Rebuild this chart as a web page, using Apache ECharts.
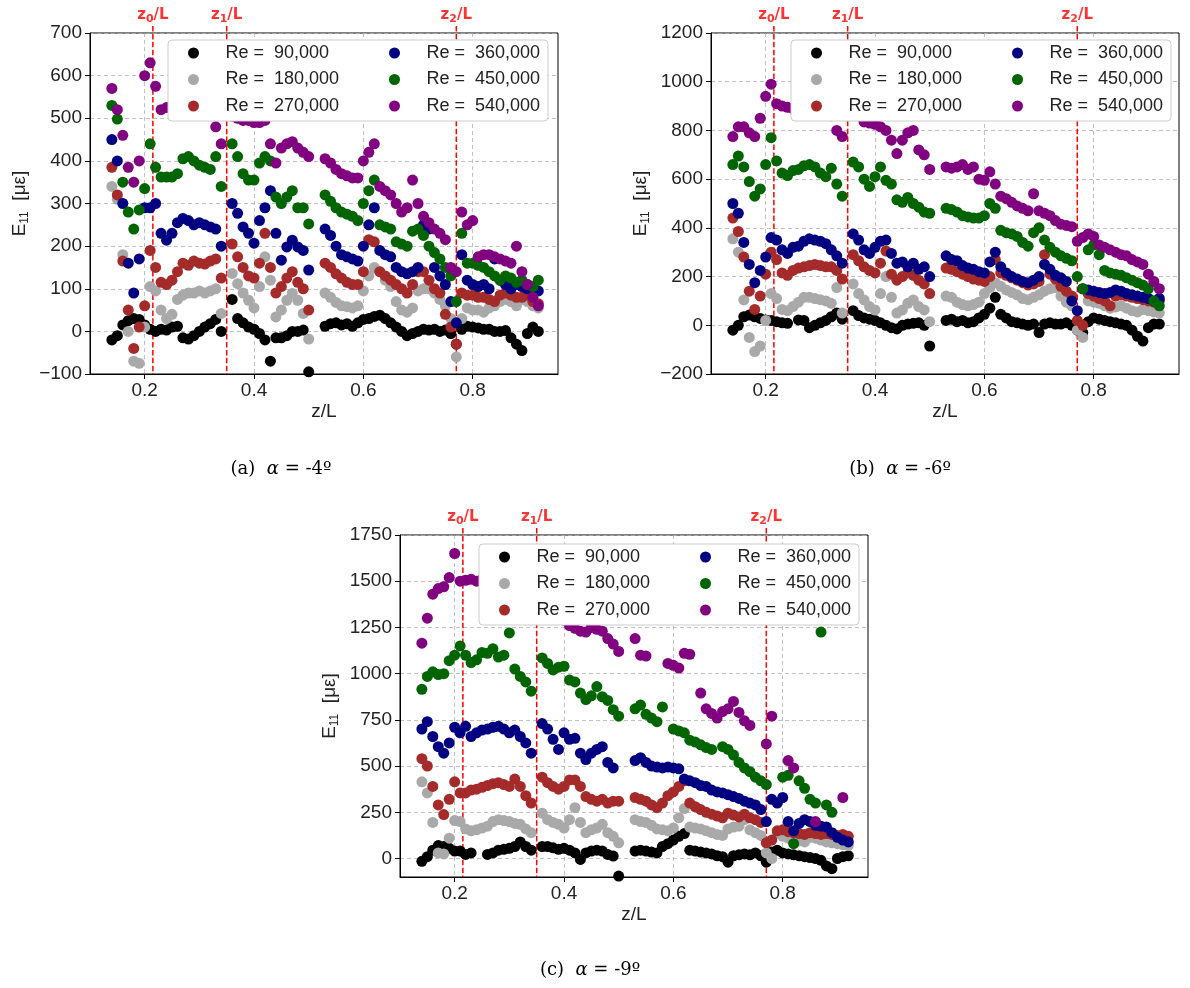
<!DOCTYPE html>
<html><head><meta charset="utf-8">
<script src="https://cdn.jsdelivr.net/npm/echarts@6/dist/echarts.min.js"></script>
<style>html,body{margin:0;padding:0;background:#fff}#chart{width:1190px;height:988px}</style>
</head><body><div id="chart"></div>
<script>
// ---------- data ----------
const zPos = [0.14,0.15,0.16,0.17,0.18,0.19,0.20,0.21,0.22,0.23,
  0.24,0.25,0.26,0.27,0.28,0.29,0.30,0.31,0.32,0.33,
  0.34,0.35,0.36,0.37,0.38,0.39,0.40,0.41,0.42,0.43,
  0.44,0.45,0.46,0.47,0.48,0.49,0.50,
  0.53,0.54,0.55,0.56,0.57,0.58,0.59,0.60,0.61,0.62,
  0.63,0.64,0.65,0.66,0.67,0.68,0.69,0.70,0.71,0.72,
  0.73,0.74,0.75,0.76,0.77,0.78,0.79,0.80,0.81,0.82,
  0.83,0.84,0.85,0.86,0.87,0.88,0.89,0.90,0.91,0.92];
const seriesNames = ['Re =  90,000','Re =  180,000','Re =  270,000','Re =  360,000','Re =  450,000','Re =  540,000'];
const seriesColors = ['#000000','#a9a9a9','#a52a2a','#000080','#006400','#800080'];
const xTicks = [0.2,0.4,0.6,0.8];
const yTicksC = [0,250,500,750,1000,1250,1500,1750];
const zRefPos = [0.215,0.35,0.77];
const zRefSub = ['0','1','2'];
const captions = ['(a)','(b)','(c)'];
const alphas = ['-4º','-6º','-9º'];

// panel (a) alpha = -4
const a90 = [-20,-10,15,25,30,28,15,5,0,5, 3,10,12,-15,-18,-10,0,10,18,28, 0,null,75,30,20,10,5,-5,-20,-70, -15,-15,-10,0,0,3,-95,
  12,18,20,15,18,12,20,28,30,35, 38,30,20,10,0,-10,-5,0,5,3, 5,0,3,-5,-30,5,12,10,8,5, 5,0,0,2,-15,-30,-45,-5,10,0];
const a180 = [340,310,180,0,-70,-75,10,105,95,50, 30,40,75,85,90,90,95,90,95,100, 42,null,136,112,90,73,55,105,175,120, 34,50,73,89,73,42,-18,
  90,80,68,60,58,55,60,95,130,150, 140,120,105,70,50,45,55,95,100,100, 90,75,60,30,-60,30,55,50,50,45, 55,60,70,75,70,60,75,70,60,55];
const a270 = [385,320,165,50,-40,10,60,190,150,115, 110,120,140,160,155,165,160,158,165,170, 125,null,205,175,150,130,125,160,230,150, 90,105,125,140,115,100,50,
  160,150,135,125,115,110,110,140,215,210, 140,130,120,110,100,90,110,140,140,120, 100,90,40,10,-30,90,85,85,80,80, 75,70,85,90,85,80,80,85,70,65];
const a360 = [450,400,300,160,90,170,290,290,300,230, 214,230,255,265,260,250,255,250,245,240, 200,null,300,277,245,230,207,260,290,330, 230,167,198,214,198,190,144,
  240,225,200,180,175,170,165,200,250,290, 190,180,175,150,140,135,140,150,250,240, 150,130,110,70,20,180,120,110,105,110, 100,170,120,110,100,110,105,100,100,95];
const a450 = [530,498,350,280,240,285,335,440,385,362, 362,362,370,405,410,400,390,385,380,410, 340,null,440,410,370,355,355,395,410,400, 315,300,315,330,290,290,252,
  320,305,290,280,275,270,260,300,330,355, 250,245,240,210,205,200,235,240,225,200, 185,170,150,130,70,230,160,160,155,150, 140,130,120,130,125,115,120,110,105,120];
const a540 = [570,520,460,385,350,400,600,630,575,520, 525,530,530,535,530,525,520,520,510,480, 440,null,505,500,495,495,490,490,495,440, 395,430,440,445,430,420,410,
  405,395,380,370,365,360,360,400,420,440, 340,330,320,300,280,290,355,300,270,255, 240,230,215,150,140,280,250,260,175,180, 180,175,170,165,160,200,140,110,80,60];

// panel (b) alpha = -6
const b90 = [-20,0,35,42,35,28,22,20,15,10, 8,null,22,20,-10,0,10,20,35,50, 25,null,60,40,30,25,20,10,0,-10, -15,0,5,8,10,0,-85,
  20,25,15,20,10,15,30,45,70,115, 45,30,15,10,5,0,5,-30,5,10, 5,5,10,0,-20,-30,15,30,25,20, 15,10,5,0,-20,-45,-65,-10,5,5];
const b180 = [355,300,104,-50,-108,-85,20,130,110,65, 60,77,95,115,115,110,105,100,90,155, 50,null,170,130,104,77,63,130,200,115, 50,63,90,104,77,63,15,
  120,115,95,85,80,85,95,130,155,175, 160,145,135,125,110,105,115,125,140,150, 155,120,95,80,-20,-50,100,95,90,80, 70,75,80,70,60,55,65,60,55,50];
const b270 = [440,385,280,140,65,120,210,300,270,215, 205,225,235,240,245,250,245,240,240,225, 190,null,290,265,240,225,215,255,305,210, 185,200,215,205,185,170,130,
  235,230,220,210,200,190,185,180,200,270, 215,205,195,185,175,165,170,180,290,210, 190,160,140,120,20,0,130,120,110,100, 80,120,125,120,115,110,105,100,95,100];
const b360 = [500,460,340,250,175,225,280,360,350,310, 295,320,325,345,355,350,345,335,310,285, 255,null,375,350,310,295,320,345,350,295, 255,260,240,255,230,240,200,
  285,270,265,245,235,230,220,215,260,300, 240,215,200,190,180,175,185,200,250,230, 205,195,180,100,60,150,145,140,135,130, 135,145,140,130,125,120,115,110,100,110];
const b450 = [660,695,650,590,530,560,660,770,675,625, 615,635,640,655,660,650,625,610,645,580, 530,null,670,650,600,570,610,650,595,580, 515,505,525,500,485,465,460,
  480,475,465,450,445,440,440,450,500,480, 390,380,375,365,340,325,380,400,350,320, 300,285,275,265,200,150,310,330,290,225, 215,210,205,195,185,175,165,150,100,80];
const b540 = [775,815,815,790,775,850,940,990,910,900, 895,890,890,895,890,885,880,870,860,800, 775,null,880,860,835,830,825,815,800,760, 705,760,790,800,720,700,640,
  650,645,650,660,640,650,600,595,630,580, 530,520,505,490,480,470,540,470,460,450, 430,415,410,405,345,360,375,365,330,320, 310,300,290,285,270,260,250,210,180,150];

// panel (c) alpha = -9
const c90 = [-15,10,45,70,65,55,40,40,22,30, null,null,22,30,45,50,55,65,90,65, 45,null,65,65,58,50,55,45,30,-5, 30,40,45,40,22,13,-95,
  40,45,40,35,30,65,80,100,120,135, 45,40,35,30,25,15,10,-20,15,20, 25,20,30,15,-20,35,45,30,25,20, 15,10,5,0,-10,-40,-55,0,10,15];
const c180 = [415,355,195,30,25,110,205,200,160,150, 155,165,175,200,210,205,200,190,185,160, 140,null,245,210,195,185,165,210,275,195, 140,155,165,185,140,120,85,
  210,200,195,180,160,155,150,165,220,270, 170,165,160,150,140,130,125,160,170,175, 210,155,140,125,30,0,135,120,110,100, 95,90,115,110,100,90,85,80,75,70];
const c270 = [540,500,390,290,238,320,415,355,355,370, 375,385,395,405,410,400,390,430,390,340, 300,null,440,410,390,375,390,425,425,390, 335,320,310,320,300,310,310,
  330,320,310,290,275,300,340,360,390,420, 300,280,265,250,240,230,220,245,235,225, 240,220,210,195,85,100,150,155,145,140, 135,130,140,135,130,135,130,125,130,120];
const c360 = [700,740,660,605,570,625,710,680,715,660, 680,695,700,710,715,700,680,695,660,625, 570,null,730,700,645,590,680,645,650,570, 535,570,590,605,520,490,null,
  530,545,520,500,495,490,495,490,485,430, 420,410,395,390,370,360,355,345,335,325, 310,300,290,265,200,320,300,330,200,150, 190,210,200,180,175,170,140,115,100,90];
const c450 = [915,985,1010,995,1000,1070,1100,1150,1100,1060, 1075,1115,1110,1135,1090,1100,1220,1025,985,955, 905,null,1085,1055,1020,1035,1040,965,955,895, 860,880,930,875,855,805,770,
  810,830,780,760,740,820,null,700,690,680, 640,630,615,600,590,null,605,590,560,520, 490,470,440,420,400,null,null,440,450,80, 420,380,320,300,1225,290,250,null,null,null];
const c540 = [1165,1300,1430,1460,1470,1520,1650,1500,1505,1510, 1500,1510,1520,1530,1520,1510,1500,1490,1470,1440, 1400,null,1450,1400,1350,1310,1290,1260,1245,1230, 1225,1250,1240,1230,1190,1160,1120,
  1190,1100,1095,null,null,null,1055,1045,1030,1110, 1105,null,895,810,785,760,795,810,850,790, 745,720,null,null,620,770,null,null,530,490, null,null,null,200,null,null,null,null,330,null];

const panelValues = [[a90,a180,a270,a360,a450,a540],[b90,b180,b270,b360,b450,b540],[c90,c180,c270,c360,c450,c540]];
const yMin = [-100,-200,-100];
const yMax = [700,1200,1750];
const yInterval = [100,200,null];

// ---------- layout (pixels) ----------
const grids = [
  {left:90, top:33, width:468, height:341},
  {left:711, top:33, width:468, height:341},
  {left:400, top:535, width:468, height:342}
];
const X_MIN = 0.1, X_MAX = 0.956;
const FONT = 'Liberation Sans';
const txt = '#222222';

function pts(vals){ return zPos.map((z,i)=> vals[i]==null ? null : [z, vals[i]]).filter(Boolean); }
function fmtNum(v){ return v < 0 ? '\u2212' + Math.abs(v) : String(v); }

const option = {
  animation:false,
  backgroundColor:'#ffffff',
  grid: grids.map(g => Object.assign({show:true, borderColor:'#000', borderWidth:1, backgroundColor:'#fff', containLabel:false}, g)),
  xAxis: grids.map((g,i)=>({
    type:'value', gridIndex:i, min:X_MIN, max:X_MAX,
    name:'z/L', nameLocation:'middle', nameGap:28,
    nameTextStyle:{fontFamily:FONT, fontSize:19, color:txt},
    axisLine:{show:true, onZero:false, lineStyle:{color:'#000', width:1}},
    axisTick:{show:true, inside:false, length:5, customValues:xTicks, lineStyle:{color:'#000', width:1}},
    axisLabel:{show:true, customValues:xTicks, margin:7, fontFamily:FONT, fontSize:19, color:txt, formatter:v=>Number(v).toFixed(1)},
    splitLine:{show:true, lineStyle:{color:'#b0b0b0', width:0.8, type:[4,3]}}
  })),
  yAxis: grids.map((g,i)=>{
    const ax = {
      type:'value', gridIndex:i, min:yMin[i], max:yMax[i],
      name:'{n|E}{s|11}{n|  [με]}', nameLocation:'middle', nameGap:59,
      nameTextStyle:{fontFamily:FONT, fontSize:19, color:txt,
        rich:{n:{fontFamily:FONT, fontSize:19, color:txt}, s:{fontFamily:FONT, fontSize:12, color:txt, padding:[10,0,0,0]}}},
      axisLine:{show:true, onZero:false, lineStyle:{color:'#000', width:1}},
      axisTick:{show:true, inside:false, length:5, lineStyle:{color:'#000', width:1}},
      axisLabel:{show:true, margin:8, fontFamily:FONT, fontSize:19, color:txt, formatter:v=>fmtNum(v)},
      splitLine:{show:true, lineStyle:{color:'#b0b0b0', width:0.8, type:[4,3]}}
    };
    if (yInterval[i]) { ax.interval = yInterval[i]; }
    else { ax.axisTick.customValues = yTicksC; ax.axisLabel.customValues = yTicksC; }
    return ax;
  }),
  legend: [],
  graphic: [],
  series: []
};

const refRich = {
  b:{fontFamily:'DejaVu Sans', fontWeight:'bold', fontSize:15, color:'#ff0000'},
  s:{fontFamily:'DejaVu Sans', fontWeight:'bold', fontSize:11, color:'#ff0000', padding:[8,0,0,0]}
};

// scatter series
panelValues.forEach((vals,p)=>{
  vals.forEach((v,k)=>{
    option.series.push({
      type:'scatter', name:seriesNames[k], xAxisIndex:p, yAxisIndex:p,
      data:pts(v), symbol:'circle', symbolSize:11,
      itemStyle:{color:seriesColors[k], opacity:1},
      emphasis:{disabled:true}
    });
  });
  // reference lines z_i/L: dashed vertical line from a little above the frame down to the axis minimum
  const top = yMax[p] + (yMax[p]-yMin[p]) * 7 / grids[p].height;
  zRefPos.forEach((z,i)=>{
    option.series.push({
      type:'line', xAxisIndex:p, yAxisIndex:p, clip:false, silent:true, z:2,
      symbol:'none', showSymbol:false,
      lineStyle:{color:'#ff0000', width:1.5, type:[5.5,2.4]},
      data:[[z, top],[z, yMin[p]]],
      emphasis:{disabled:true}
    });
    option.series.push({
      type:'scatter', xAxisIndex:p, yAxisIndex:p, clip:false, silent:true, z:2,
      symbol:'circle', symbolSize:1, itemStyle:{color:'rgba(0,0,0,0)'},
      data:[[z, top]],
      label:{show:true, position:'top', distance:1, formatter:'{b|z}{s|' + zRefSub[i] + '}{b|/L}', rich:refRich},
      emphasis:{disabled:true}
    });
  });
});

// legends (two columns per panel) with a framed box, drawn above the data and reference lines
const legendBox = [{x:168, y:40}, {x:791, y:40}, {x:479, y:544}];
legendBox.forEach((b,p)=>{
  option.graphic.push({type:'rect', z:3, shape:{x:b.x, y:b.y, width:380, height:81, r:4},
    style:{fill:'#ffffff', stroke:'#cccccc', lineWidth:1}});
  [0,1].forEach(c=>{
    option.legend.push({
      orient:'vertical', left:b.x + 20 + c*201, top:b.y + 4, padding:0, z:4,
      itemWidth:54, itemHeight:11, itemGap:8.5, icon:'circle', selectedMode:false,
      data:seriesNames.slice(c*3, c*3+3),
      textStyle:{fontFamily:FONT, fontSize:18, color:txt}
    });
  });
});

// captions
const capPos = [{x:281, y:469}, {x:900, y:469}, {x:590, y:970}];
capPos.forEach((c,i)=>{
  option.graphic.push({type:'text', x:c.x, y:c.y, z:5,
    style:{text:'{r|' + captions[i] + '  }{i|α}{r| = ' + alphas[i] + '}', align:'center', verticalAlign:'middle',
      rich:{r:{fontFamily:'DejaVu Serif', fontSize:18, color:'#222'}, i:{fontFamily:'DejaVu Serif', fontStyle:'italic', fontSize:18, color:'#222'}}}});
});

const chart = echarts.init(document.getElementById('chart'), null, {renderer:'canvas'});
chart.setOption(option);
</script>
</body></html>
